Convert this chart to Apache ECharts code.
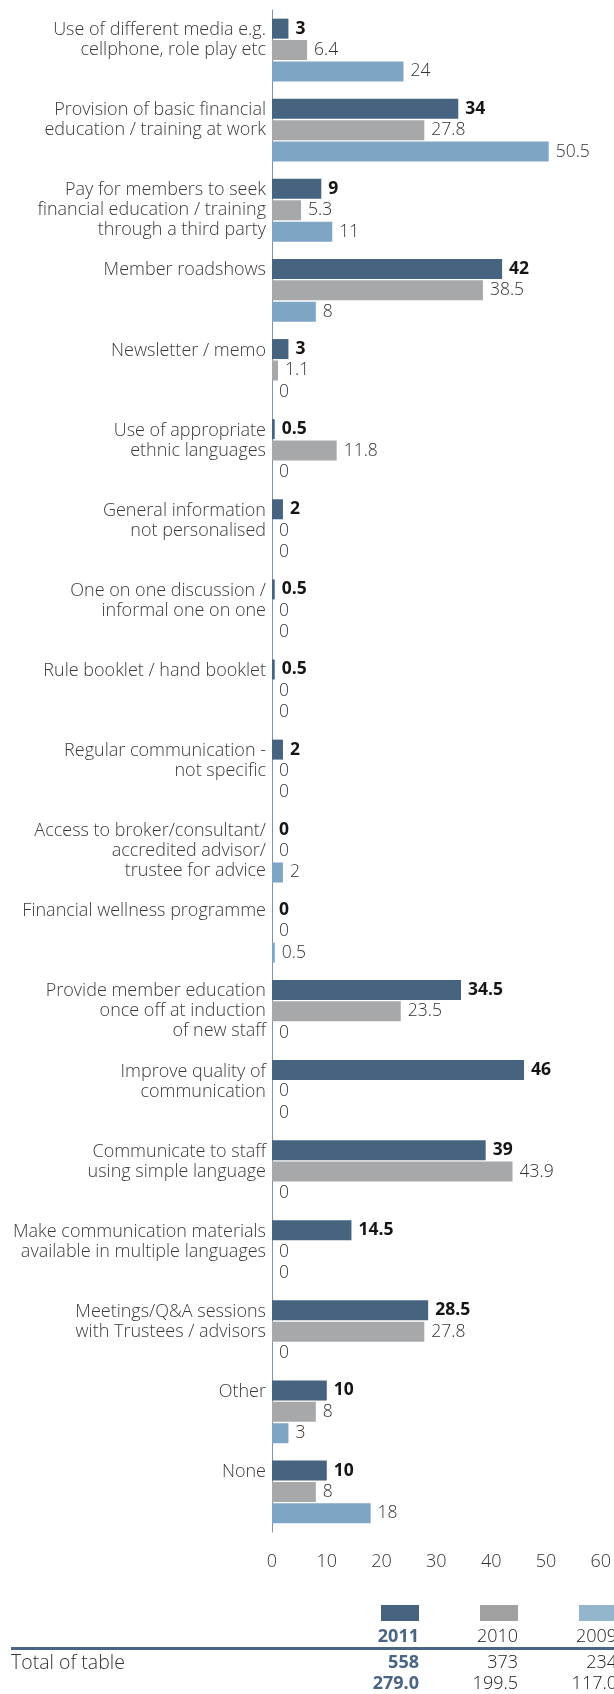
<!DOCTYPE html>
<html>
<head>
<meta charset="utf-8">
<script src="https://cdn.jsdelivr.net/npm/echarts@6/dist/echarts.min.js"></script>
<style>
html,body{margin:0;padding:0;background:#fff;}
#chart{width:614px;height:1694px;}
</style>
</head>
<body>
<div id="chart"></div>
<script>
const categories = [
  "Use of different media e.g.\ncellphone, role play etc",
  "Provision of basic financial\neducation / training at work",
  "Pay for members to seek\nfinancial education / training\nthrough a third party",
  "Member roadshows",
  "Newsletter / memo",
  "Use of appropriate\nethnic languages",
  "General information\nnot personalised",
  "One on one discussion /\ninformal one on one",
  "Rule booklet / hand booklet",
  "Regular communication -\nnot specific",
  "Access to broker/consultant/\naccredited advisor/\ntrustee for advice",
  "Financial wellness programme",
  "Provide member education\nonce off at induction\nof new staff",
  "Improve quality of\ncommunication",
  "Communicate to staff\nusing simple language",
  "Make communication materials\navailable in multiple languages",
  "Meetings/Q&A sessions\nwith Trustees / advisors",
  "Other",
  "None"
];
const values2011 = [3, 34, 9, 42, 3, 0.5, 2, 0.5, 0.5, 2, 0, 0, 34.5, 46, 39, 14.5, 28.5, 10, 10];
const values2010 = [6.4, 27.8, 5.3, 38.5, 1.1, 11.8, 0, 0, 0, 0, 0, 0, 23.5, 0, 43.9, 0, 27.8, 8, 8];
const values2009 = [24, 50.5, 11, 8, 0, 0, 0, 0, 0, 0, 2, 0.5, 0, 0, 0, 0, 0, 3, 18];
const xTicks = [0, 10, 20, 30, 40, 50, 60];
const years = ["2011", "2010", "2009"];
const totals = ["558", "373", "234"];
const averages = ["279.0", "199.5", "117.0"];
const totalLabel = "Total of table";

const FONT = '"Open Sans", sans-serif';
const barColors = ['#46637F', '#A7A8AA', '#7FA5C4'];
const legendColors = ['#46637F', '#A0A0A0', '#93B6CC'];

const chart = echarts.init(document.getElementById('chart'));

function mkSeries(name, data, idx) {
  return {
    name: name,
    type: 'bar',
    data: data,
    barWidth: 20,
    barGap: '7%',
    itemStyle: { color: barColors[idx] },
    label: {
      show: true,
      position: 'right',
      distance: 7,
      fontFamily: FONT,
      fontSize: 17.5,
      fontWeight: idx === 0 ? 'bold' : 300,
      color: idx === 0 ? '#151515' : '#333'
    },
    animation: false
  };
}

const colRight = [419, 518, 617];
const graphics = [];
for (let i = 0; i < 3; i++) {
  graphics.push({
    type: 'rect',
    shape: { x: colRight[i] - 38, y: 1605, width: 38, height: 16 },
    style: { fill: legendColors[i] }
  });
  const isBlue = i === 0;
  const common = {
    textAlign: 'right', textVerticalAlign: 'middle',
    fontFamily: FONT, fontSize: 18,
    fontWeight: isBlue ? 'bold' : 300,
    fill: isBlue ? '#4A6583' : '#222'
  };
  graphics.push({ type: 'text', x: colRight[i], y: 1637, style: Object.assign({ text: years[i] }, common) });
  graphics.push({ type: 'text', x: colRight[i], y: 1663, style: Object.assign({ text: totals[i] }, common) });
  graphics.push({ type: 'text', x: colRight[i], y: 1684, style: Object.assign({ text: averages[i] }, common) });
}
graphics.push({
  type: 'line',
  shape: { x1: 11, y1: 1648.5, x2: 614, y2: 1648.5 },
  style: { stroke: '#4A6583', lineWidth: 3 }
});
graphics.push({
  type: 'text', x: 11, y: 1663,
  style: { text: totalLabel, textAlign: 'left', textVerticalAlign: 'middle', fontFamily: FONT, fontSize: 19.5, fontWeight: 300, fill: '#333' }
});

chart.setOption({
  animation: false,
  backgroundColor: '#fff',
  grid: { left: 272, right: 13, top: 10, height: 1522 },
  xAxis: {
    type: 'value',
    min: xTicks[0],
    max: xTicks[xTicks.length - 1],
    interval: xTicks[1] - xTicks[0],
    axisLine: { show: false },
    axisTick: { show: false },
    splitLine: { show: false },
    axisLabel: { margin: 21, fontFamily: FONT, fontSize: 18, fontWeight: 300, color: '#333' }
  },
  yAxis: {
    type: 'category',
    inverse: true,
    data: categories,
    axisLine: { show: true, lineStyle: { color: '#7D94AB', width: 1 } },
    axisTick: { show: false },
    axisLabel: {
      margin: 6,
      fontFamily: FONT,
      fontSize: 18,
      fontWeight: 300,
      lineHeight: 20,
      color: '#3a3a3a',
      formatter: function (v) {
        const lines = v.split('\n');
        while (lines.length < 3) lines.push(' ');
        return lines.join('\n');
      }
    }
  },
  series: [
    mkSeries('2011', values2011, 0),
    mkSeries('2010', values2010, 1),
    mkSeries('2009', values2009, 2)
  ],
  graphic: graphics
});
</script>
</body>
</html>
